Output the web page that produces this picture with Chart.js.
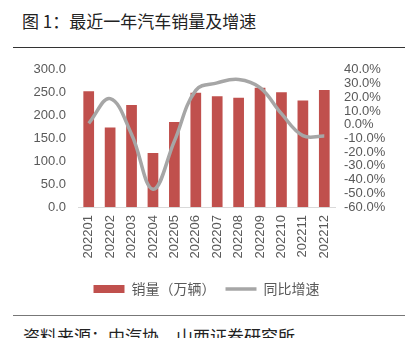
<!DOCTYPE html>
<html>
<head>
<meta charset="utf-8">
<script src="https://cdn.jsdelivr.net/npm/chart.js@4"></script>
<style>
  body { margin: 0; width: 413px; height: 338px; background: #fff; position: relative; overflow: hidden; font-family: "Noto Sans CJK SC", sans-serif; }
  .title { position: absolute; left: 22px; top: 11px; font-size: 17px; line-height: 20px; color: #222; }
  .rule { position: absolute; left: 13px; width: 392px; height: 1px; }
  .src { position: absolute; left: 23px; top: 326px; font-size: 17px; line-height: 20px; color: #222; white-space: nowrap; }
  #c { position: absolute; left: 0; top: 50px; }
</style>
</head>
<body>
<div class="title">图 1：最近一年汽车销量及增速</div>
<div class="rule" style="top:47px;background:#333"></div>
<canvas id="c" width="413" height="256"></canvas>
<div class="rule" style="top:315px;background:#777"></div>
<div class="src">资料来源：中汽协，山西证券研究所</div>
<script>
const months = ['202201', '202202', '202203', '202204', '202205', '202206',
                '202207', '202208', '202209', '202210', '202211', '202212'];
// 销量 (万辆)
const sales = [253, 174, 223, 118, 186, 250, 242, 239, 261, 251, 233, 256];
// 同比增速 (%)
const growth = [1.0, 19.0, -7.0, -47.0, -12.0, 25.0, 30.5, 33.0, 27.0, 8.0, -8.0, -8.3];

const tickFont = { family: 'Liberation Sans', size: 13 };
const gray = '#595959';

new Chart(document.getElementById('c'), {
  data: {
    labels: months,
    datasets: [
      {
        type: 'bar', label: '销量（万辆）', data: sales, yAxisID: 'y',
        backgroundColor: '#c0504d', barPercentage: 0.5, categoryPercentage: 1, order: 1
      },
      {
        type: 'line', label: '同比增速', data: growth, yAxisID: 'y2',
        borderColor: '#a6a6a6', backgroundColor: '#a6a6a6', borderWidth: 3.5,
        pointRadius: 0, tension: 0.4, order: 0
      }
    ]
  },
  options: {
    responsive: false,
    animation: false,
    devicePixelRatio: 1,
    layout: { padding: { top: 12, bottom: 0 } },
    plugins: {
      tooltip: { enabled: false },
      legend: {
        position: 'bottom',
        labels: {
          color: gray,
          font: { family: 'Noto Sans CJK SC', size: 14 },
          usePointStyle: true, pointStyleWidth: 31, boxHeight: 8, padding: 10,
          generateLabels: chart => chart.data.datasets.map((ds, i) => ({
            text: ds.label, datasetIndex: i,
            fillStyle: ds.type === 'bar' ? '#c0504d' : '#a6a6a6',
            strokeStyle: ds.type === 'bar' ? '#c0504d' : '#a6a6a6',
            lineWidth: ds.type === 'bar' ? 0 : 3.5,
            pointStyle: ds.type === 'bar' ? 'rect' : 'line',
            fontColor: gray
          }))
        }
      }
    },
    scales: {
      x: {
        grid: { display: false, drawTicks: false },
        border: { color: '#d9d9d9' },
        ticks: { color: gray, font: tickFont, minRotation: 90, maxRotation: 90, padding: 8, autoSkip: false },
        afterFit: s => { s.height = 65; }
      },
      y: {
        position: 'left', min: 0, max: 300,
        grid: { display: false, drawTicks: false },
        border: { display: false },
        ticks: { stepSize: 50, color: gray, font: tickFont, padding: 12, autoSkip: false, callback: v => v.toFixed(1) },
        afterFit: s => { s.width = 78; }
      },
      y2: {
        position: 'right', min: -60, max: 40,
        grid: { display: false, drawTicks: false },
        border: { display: false },
        ticks: { stepSize: 10, color: gray, font: tickFont, padding: 9, autoSkip: false, callback: v => v.toFixed(1) + '%' },
        afterFit: s => { s.width = 78; }
      }
    }
  }
});
</script>
</body>
</html>
